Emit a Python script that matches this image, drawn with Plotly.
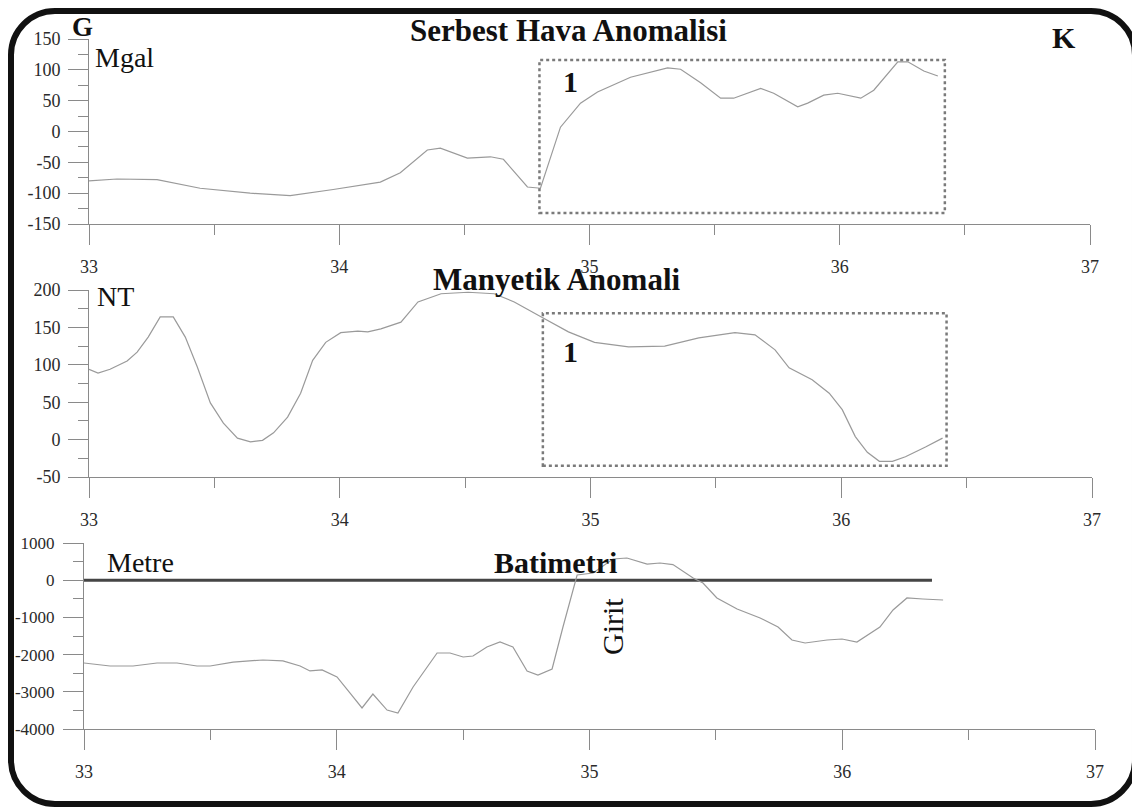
import plotly.graph_objects as go

# ---------------- data ----------------
# Serbest Hava Anomalisi (mGal)
FA_LON = [33.000, 33.112, 33.272, 33.444, 33.644, 33.804, 33.976, 34.164, 34.244, 34.352,
          34.404, 34.512, 34.604, 34.656, 34.752, 34.804, 34.884, 34.964, 35.032, 35.164,
          35.312, 35.364, 35.444, 35.524, 35.576, 35.684, 35.736, 35.832, 35.872, 35.936,
          35.992, 36.084, 36.136, 36.232, 36.272, 36.336, 36.392]
FA_VAL = [-80, -77, -78, -92, -100, -104, -94, -82, -67, -30,
          -27, -43, -41, -45, -90, -92, 7, 46, 64, 88,
          103, 101, 79, 54, 54, 70, 62, 40, 46, 59,
          62, 54, 67, 113, 113, 98, 90]

# Manyetik Anomali (nT)
MAG_LON = [33.000, 33.036, 33.084, 33.152, 33.192, 33.236, 33.284, 33.336, 33.384, 33.432,
           33.484, 33.536, 33.592, 33.644, 33.692, 33.736, 33.792, 33.844, 33.892, 33.944,
           34.004, 34.072, 34.112, 34.164, 34.244, 34.312, 34.404, 34.512, 34.616, 34.696,
           34.804, 34.912, 35.016, 35.152, 35.296, 35.432, 35.576, 35.656, 35.736, 35.792,
           35.884, 35.952, 36.004, 36.056, 36.104, 36.152, 36.204, 36.256, 36.336, 36.404]
MAG_VAL = [94, 89, 94, 105, 117, 137, 164, 164, 137, 97,
           49, 22, 2, -3, -1, 9, 30, 62, 106, 130,
           143, 145, 144, 148, 157, 184, 195, 197, 195, 184,
           164, 144, 130, 124, 125, 136, 143, 140, 120, 96,
           80, 62, 40, 4, -17, -29, -29, -23, -10, 2]

# Batimetri (metre)
BAT_LON = [33.000, 33.103, 33.194, 33.289, 33.368, 33.447, 33.499, 33.590, 33.708, 33.787,
           33.855, 33.894, 33.942, 34.001, 34.052, 34.100, 34.143, 34.171, 34.199, 34.242,
           34.302, 34.397, 34.448, 34.500, 34.539, 34.594, 34.646, 34.697, 34.753, 34.796,
           34.852, 34.895, 34.951, 35.014, 35.093, 35.148, 35.228, 35.279, 35.330, 35.410,
           35.449, 35.504, 35.584, 35.675, 35.746, 35.801, 35.853, 35.940, 35.999, 36.058,
           36.149, 36.201, 36.256, 36.319, 36.399]
BAT_VAL = [-2226, -2306, -2306, -2226, -2226, -2306, -2306, -2200, -2145, -2170,
           -2306, -2440, -2413, -2600, -3032, -3435, -3060, -3274, -3490, -3570,
           -2870, -1957, -1957, -2064, -2037, -1795, -1661, -1795, -2440, -2548,
           -2387, -1258, 140, 194, 570, 597, 435, 462, 420, 60,
           -75, -478, -774, -1016, -1258, -1607, -1688, -1607, -1580, -1661,
           -1258, -801, -478, -505, -532]

SEA_LON = [33.0, 36.355]
SEA_VAL = [0, 0]

# zone "1" boxes
BOX1_FA_X = [34.80, 36.42]
BOX1_FA_Y = [-132, 116]
BOX1_MAG_X = [34.81, 36.42]
BOX1_MAG_Y = [-35, 169]

X_TICKS = [33, 34, 35, 36, 37]
FA_TICKS = [150, 100, 50, 0, -50, -100, -150]
MAG_TICKS = [200, 150, 100, 50, 0, -50]
BAT_TICKS = [1000, 0, -1000, -2000, -3000, -4000]

# ---------------- figure ----------------
OFF = 8                      # default page margin of the html body
W, H = 1140 - OFF, 811 - OFF
SERIF = "Liberation Serif"
AX = "#8a8a8a"
CURVE = "#9a9a9a"
TXT = "#2a2a2a"


def px(x):
    return (x - OFF) / W


def py(y):
    return 1 - (y - OFF) / H


fig = go.Figure()
fig.add_trace(go.Scatter(x=FA_LON, y=FA_VAL, mode="lines", line=dict(color=CURVE, width=1.2),
                         xaxis="x", yaxis="y", showlegend=False))
fig.add_trace(go.Scatter(x=MAG_LON, y=MAG_VAL, mode="lines", line=dict(color=CURVE, width=1.2),
                         xaxis="x2", yaxis="y2", showlegend=False))
fig.add_trace(go.Scatter(x=SEA_LON, y=SEA_VAL, mode="lines", line=dict(color="#454545", width=3),
                         xaxis="x3", yaxis="y3", showlegend=False))
fig.add_trace(go.Scatter(x=BAT_LON, y=BAT_VAL, mode="lines", line=dict(color=CURVE, width=1.2),
                         xaxis="x3", yaxis="y3", showlegend=False))


def xaxis(domain, anchor):
    return dict(domain=domain, anchor=anchor, range=[33, 37], tickvals=X_TICKS,
                ticktext=[str(v) for v in X_TICKS], showline=True, linecolor=AX, linewidth=1,
                ticks="outside", ticklen=20, tickcolor=AX, tickwidth=1,
                minor=dict(dtick=0.5, tick0=33, ticks="outside", ticklen=10, tickcolor=AX, tickwidth=1),
                showgrid=False, zeroline=False,
                tickfont=dict(family=SERIF, size=18, color=TXT), ticklabelstandoff=6,
                automargin=False, fixedrange=True)


def yaxis(domain, anchor, rng, vals, minor_dt, standoff, fsize):
    return dict(domain=domain, anchor=anchor, range=rng, tickvals=vals,
                ticktext=[str(v) for v in vals], showline=True, linecolor=AX, linewidth=1,
                ticks="outside", ticklen=20, tickcolor=AX, tickwidth=1,
                minor=dict(dtick=minor_dt, tick0=0, ticks="outside", ticklen=10, tickcolor=AX, tickwidth=1),
                showgrid=False, zeroline=False,
                tickfont=dict(family=SERIF, size=fsize, color=TXT), ticklabelstandoff=standoff,
                automargin=False, fixedrange=True)


fig.update_layout(
    width=W, height=H, margin=dict(l=0, r=0, t=0, b=0, pad=0, autoexpand=False),
    paper_bgcolor="white", plot_bgcolor="white",
    xaxis=xaxis([px(89), px(1090)], "y"),
    yaxis=yaxis([py(224), py(39)], "x", [-150, 150], FA_TICKS, 25, 4, 18),
    xaxis2=xaxis([px(89), px(1092)], "y2"),
    yaxis2=yaxis([py(477), py(290)], "x2", [-50, 200], MAG_TICKS, 25, 4, 18),
    xaxis3=xaxis([px(84), px(1095)], "y3"),
    yaxis3=yaxis([py(729), py(543)], "x3", [-4000, 1000], BAT_TICKS, 500, 5, 17),
)

box_line = dict(color="#7a7a7a", width=2.5, dash="dot")
fig.add_shape(type="rect", xref="x", yref="y", x0=BOX1_FA_X[0], x1=BOX1_FA_X[1],
              y0=BOX1_FA_Y[0], y1=BOX1_FA_Y[1], line=box_line)
fig.add_shape(type="rect", xref="x2", yref="y2", x0=BOX1_MAG_X[0], x1=BOX1_MAG_X[1],
              y0=BOX1_MAG_Y[0], y1=BOX1_MAG_Y[1], line=box_line)

# rounded outer frame (page pixel coordinates)
L, R, T, B, r = 11, 1135, 11, 804, 44
k = 0.552 * r
pts = [
    ("M", [(L + r, T)]),
    ("L", [(R - r, T)]),
    ("C", [(R - r + k, T), (R, T + r - k), (R, T + r)]),
    ("L", [(R, B - r)]),
    ("C", [(R, B - r + k), (R - r + k, B), (R - r, B)]),
    ("L", [(L + r, B)]),
    ("C", [(L + r - k, B), (L, B - r + k), (L, B - r)]),
    ("L", [(L, T + r)]),
    ("C", [(L, T + r - k), (L + r - k, T), (L + r, T)]),
]
path = " ".join(cmd + " " + " ".join(f"{px(a):.5f},{py(b):.5f}" for a, b in p) for cmd, p in pts) + " Z"
fig.add_shape(type="path", xref="paper", yref="paper", path=path,
              line=dict(color="#111111", width=6), layer="above")


def note(text, x, y, size, bold=False, angle=0):
    fig.add_annotation(text=f"<b>{text}</b>" if bold else text, x=px(x), y=py(y),
                       xref="paper", yref="paper", xanchor="center", yanchor="middle",
                       showarrow=False, textangle=angle,
                       font=dict(family=SERIF, size=size, color="#111111"))


note("G", 82, 27, 27, bold=True)
note("K", 1064, 37, 30, bold=True)
note("Serbest Hava Anomalisi", 568, 30, 31, bold=True)
note("Manyetik Anomali", 557, 279, 31, bold=True)
note("Batimetri", 555, 562, 30, bold=True)
note("1", 570, 81, 30, bold=True)
note("1", 570, 352, 30, bold=True)
note("Mgal", 124, 57, 28)
note("NT", 115, 296, 28)
note("Metre", 140, 562, 28)
note("Girit", 612, 627, 30, angle=-90)

fig.write_html("out.html")
